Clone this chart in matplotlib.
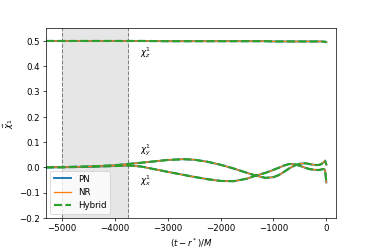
import matplotlib
matplotlib.use('Agg')
from matplotlib import pyplot as plt

# times (t - r*)/M
times = [-5300, -5000, -4500, -4000, -3750, -3500, -3000, -2700, -2500, -2250,
         -2000, -1750, -1500, -1350, -1150, -1000, -900, -800, -700, -600,
         -500, -400, -300, -200, -150, -100, -50, -25, 0]

chi_x = [0.0, 0.0, 0.002, 0.005, 0.007, 0.003, -0.018, -0.030, -0.038, -0.047,
         -0.054, -0.055, -0.045, -0.034, -0.022, -0.010, -0.002, 0.007, 0.013, 0.012,
         0.006, -0.002, -0.008, -0.010, -0.011, -0.009, -0.007, -0.010, -0.060]

chi_y = [0.0, 0.001, 0.003, 0.008, 0.013, 0.018, 0.029, 0.032, 0.030, 0.022,
         0.010, -0.005, -0.022, -0.032, -0.042, -0.039, -0.031, -0.018, -0.004, 0.007,
         0.014, 0.016, 0.012, 0.009, 0.009, 0.012, 0.020, 0.026, 0.010]

chi_z = [0.500, 0.500, 0.500, 0.500, 0.500, 0.500, 0.499, 0.499, 0.499, 0.499,
         0.499, 0.499, 0.499, 0.499, 0.499, 0.498, 0.498, 0.498, 0.498, 0.498,
         0.498, 0.498, 0.498, 0.498, 0.498, 0.498, 0.497, 0.497, 0.495]

window = (-5000, -3750)

fig = plt.figure(dpi=62.34, figsize=(6, 4))
ax = fig.add_axes([0.123, 0.125, 0.775, 0.76])

ax.axvspan(window[0], window[1], color='0.9', zorder=0)
ax.axvline(window[0], color='grey', ls='--', lw=1.2)
ax.axvline(window[1], color='grey', ls='--', lw=1.2)

for i, comp in enumerate([chi_x, chi_y, chi_z]):
    ax.plot(times, comp, c='C0', lw=2.2, label='PN' if i == 0 else None)
    ax.plot(times, comp, c='C1', lw=1.5, label='NR' if i == 0 else None)
    ax.plot(times, comp, c='C2', lw=2.5, ls='--', label='Hybrid' if i == 0 else None)

ax.text(-3530, 0.445, r'$\chi_z^1$')
ax.text(-3530, 0.058, r'$\chi_y^1$')
ax.text(-3530, -0.062, r'$\chi_x^1$')

ax.set_xlim(-5300, 180)
ax.set_ylim(-0.2, 0.55)
ax.set_xlabel(r'$(t - r^*)/M$')
ax.set_ylabel(r'$\vec{\chi}_1$')
ax.legend(loc='lower left')

fig.savefig('out.png')
